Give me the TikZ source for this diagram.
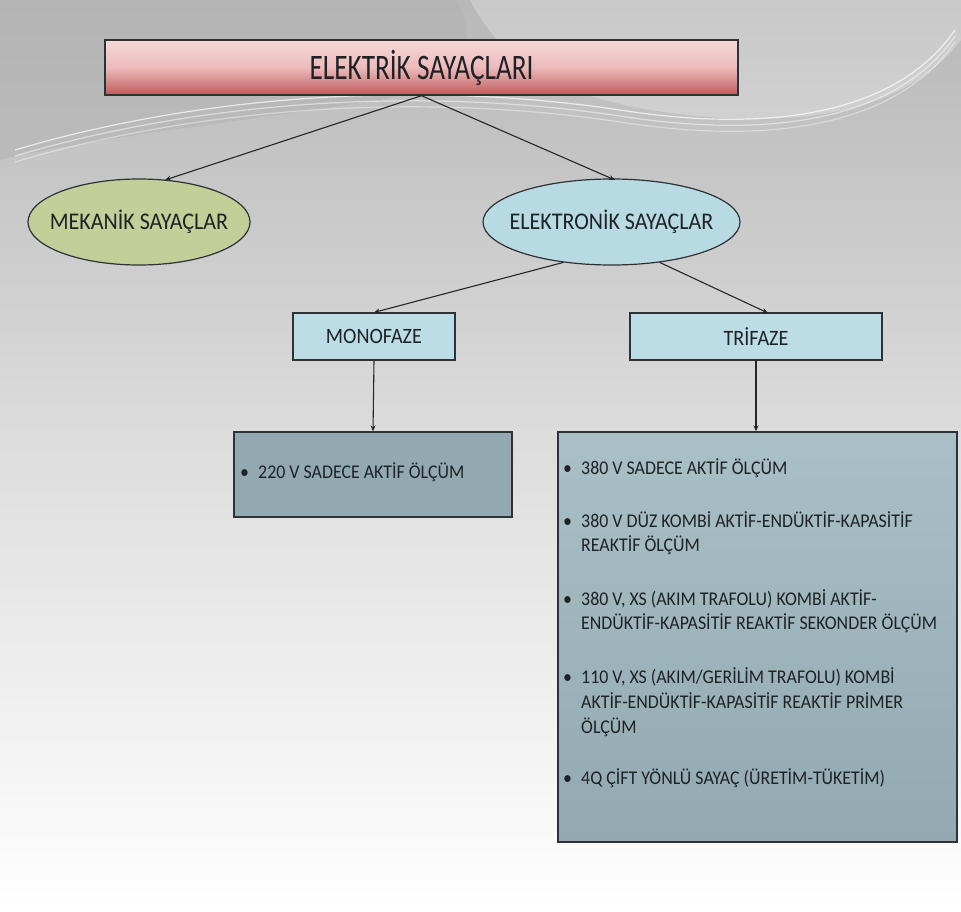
\documentclass[tikz,border=0pt]{standalone}
\usepackage{fontspec}
\setmainfont{Carlito}
\newfontfamily\condA[FakeStretch=0.92]{Carlito}
\newfontfamily\condT[FakeStretch=0.76]{Carlito}
\usetikzlibrary{shapes.geometric,arrows.meta}
\definecolor{txt}{HTML}{1E2226}
\definecolor{edge}{HTML}{2E3236}
\definecolor{olive}{HTML}{C4CE98}
\definecolor{lblue}{HTML}{B8DAE3}
\definecolor{boxblue}{HTML}{BCDDE6}
\definecolor{slate}{HTML}{93A9B1}
\definecolor{slatetop}{HTML}{A9C0C7}
\definecolor{pinktop}{HTML}{F6D9D9}
\definecolor{pinkmid}{HTML}{EDBABA}
\definecolor{pinkbot}{HTML}{BE5C5C}
\newcommand{\bul}{\makebox[18bp][l]{•}}
\newcommand{\ind}{\hspace*{18bp}}
\tikzset{
  x=1bp,y=-1bp,
  every node/.style={text=txt,font=\condA\fontsize{24}{28}\selectfont},
  every label/.style={text=txt,font=\condA\fontsize{24}{28}\selectfont},
  conn/.style={-{Stealth[length=6bp,width=5bp]},line width=1.1bp,draw=black!85},
  oval/.style={ellipse,draw=edge,line width=1.2bp,minimum width=222bp,minimum height=86bp,inner sep=0pt},
  smallbox/.style={rectangle,draw=edge,line width=1.2bp,fill=boxblue,minimum height=47bp,inner sep=0pt,font=\condA\fontsize{22}{26}\selectfont},
  listbox/.style={rectangle,draw=edge,line width=1.4bp,inner sep=0pt},
  item/.style={anchor=west,align=left,inner sep=3bp,font=\condA\fontsize{19.5}{23.5}\selectfont},
}
\begin{document}
\begin{tikzpicture}
\useasboundingbox (0,0) rectangle (961,912);
% background
\shade[top color=black!28,bottom color=white,middle color=black!13] (0,0) rectangle (961,912);
\fill[black!30,opacity=0.5] (0,0) -- (455,0) .. controls (480,40) and (470,80) .. (380,100) .. controls (250,120) and (80,140) .. (0,160) -- cycle;
\fill[white,opacity=0.25] (470,0) -- (961,0) -- (961,40) .. controls (900,120) and (780,130) .. (650,110) .. controls (560,95) and (500,60) .. cycle;
\foreach \d/\o in {0/0.7,6/0.5,12/0.4}{
  \draw[white,opacity=\o,line width=1.2bp] (15,150+\d) .. controls (200,95+\d) and (420,80+\d) .. (620,110+\d) .. controls (780,135+\d) and (900,110+\d) .. (955,30+\d);
}
% title
\node[rectangle,draw=edge,line width=1.4bp,minimum width=633bp,minimum height=55bp,inner sep=0pt,
  top color=pinktop,bottom color=pinkbot,middle color=pinkmid,font=\condT\fontsize{36}{40}\selectfont] (title) at (421.5,67.5)
  {ELEKTRİK SAYAÇLARI};
% ellipses
\node[oval,fill=olive,label=center:{MEKANİK SAYAÇLAR}] (mek) at (139,222) {};
\node[oval,fill=lblue,minimum width=257bp,label=center:{ELEKTRONİK SAYAÇLAR}] (ele) at (611.5,222) {};
% phase boxes
\node[smallbox,minimum width=162bp] (mono) at (374,336.5) {MONOFAZE};
\node[smallbox,minimum width=252bp] (tri) at (756,336.5) {TRİFAZE};
% detail boxes
\node[listbox,fill=slate,minimum width=278bp,minimum height=85bp] (b220) at (373,474.5) {};
\node[listbox,top color=slatetop,bottom color=slate,minimum width=399bp,minimum height=410bp] (b380) at (757.5,637) {};
% texts in boxes
\node[item] (t220) at (237,472) {\bul 220 V SADECE AKTİF ÖLÇÜM};
\node[item] (l1) at (560,468) {\bul 380 V SADECE AKTİF ÖLÇÜM};
\node[item] (l2) at (560,533) {\bul 380 V DÜZ KOMBİ AKTİF-ENDÜKTİF-KAPASİTİF\\\ind REAKTİF ÖLÇÜM};
\node[item] (l3) at (560,611) {\bul 380 V, XS (AKIM TRAFOLU) KOMBİ AKTİF-\\\ind ENDÜKTİF-KAPASİTİF REAKTİF SEKONDER ÖLÇÜM};
\node[item,font=\condA\fontsize{19.5}{25}\selectfont] (l4) at (560,702) {\bul 110 V, XS (AKIM/GERİLİM TRAFOLU) KOMBİ\\\ind AKTİF-ENDÜKTİF-KAPASİTİF REAKTİF PRİMER\\\ind ÖLÇÜM};
\node[item] (l5) at (560,778) {\bul 4Q ÇİFT YÖNLÜ SAYAÇ (ÜRETİM-TÜKETİM)};
% connectors
\coordinate (mektop) at (165,180);
\coordinate (eletop) at (615,180);
\coordinate (tritop) at (768,313);
\draw[conn] (title.south) -- (mektop);
\draw[conn] (title.south) -- (eletop);
\draw[conn] (ele.220) -- (mono.north);
\draw[conn] (ele.-40) -- (tritop);
\draw[conn] (mono.south) -- (b220.north);
\draw[conn] (tri.south) -- (b380.north -| tri.south);
\end{tikzpicture}
\end{document}
